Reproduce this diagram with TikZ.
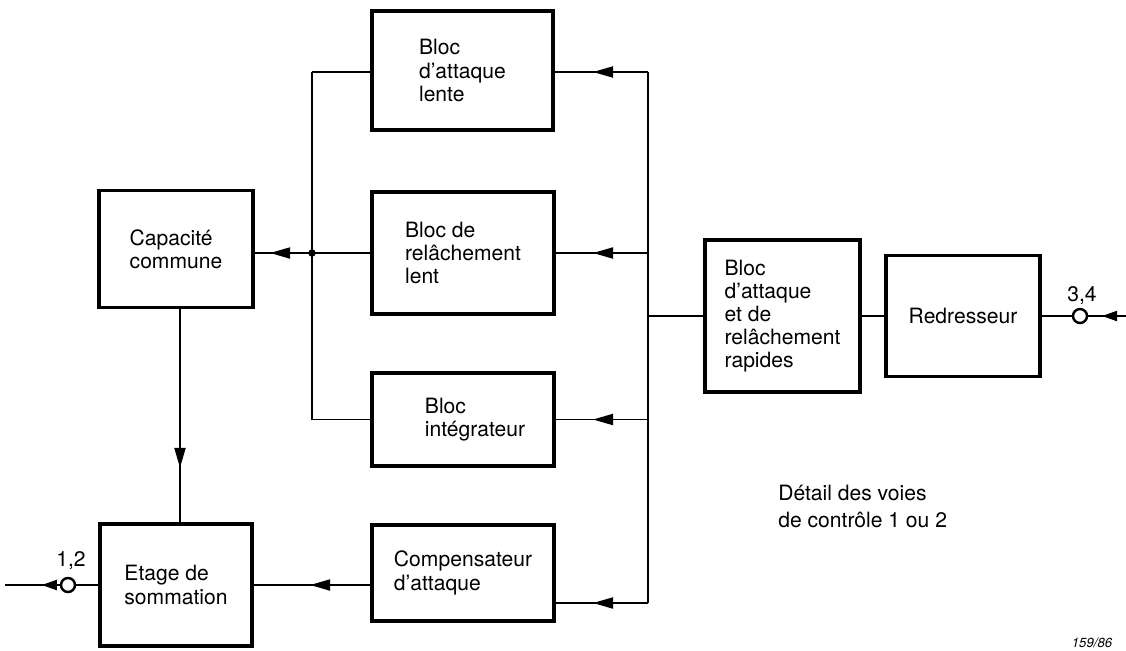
\documentclass[tikz,border=0pt]{standalone}
\usepackage{fontspec}
\setmainfont{TeX Gyre Heros}
\usetikzlibrary{arrows.meta,decorations.markings}
\begin{document}
\begin{tikzpicture}[x=0.02cm,y=-0.02cm,
  txt/.style={font=\fontsize{12}{13.2}\selectfont},
  bx/.style n args={2}{draw, line width=2.2pt, align=left, inner sep=0pt, txt,
    minimum width=#1*0.02cm, minimum height=#2*0.02cm},
  conn/.style={line width=1.1pt},
  midarr/.style={postaction={decorate}, decoration={markings,
    mark=at position #1 with {\arrow{Triangle[length=0.4cm,width=0.22cm]}}}},
  smallarr/.style={postaction={decorate}, decoration={markings,
    mark=at position #1 with {\arrow{Triangle[length=0.3cm,width=0.2cm]}}}},
  term/.style={circle, draw, line width=1.4pt, fill=white, minimum size=0.28cm, inner sep=0pt},
  dot/.style={circle, fill, inner sep=0pt, minimum size=0.15cm}]
\useasboundingbox (0,0) rectangle (1126,650);

% blocks
\node[bx={181}{119}] (lente)  at (462.5,70.5) {Bloc\\d’attaque\\lente};
\node[bx={182}{122}] (relach) at (463,253)    {Bloc de\\relâchement\\lent};
\node[bx={182}{93}]  (integ)  at (463,419.5)  {\hspace*{0.48cm}Bloc\\\hspace*{0.48cm}intégrateur};
\node[bx={182}{96}]  (comp)   at (463,573)    {Compensateur\\d’attaque};
\node[bx={154}{117}] (capa)   at (176,249)    {Capacité\\commune};
\node[bx={152}{122}] (etage)  at (176,585)    {Etage de\\sommation};
\node[bx={155}{152}] (rapid)  at (782.5,316)  {Bloc\\d’attaque\\et de\\relâchement\\rapides};
\node[bx={154}{121}] (redr)   at (963,316)    {Redresseur};

% bus coordinates
\coordinate (rb1) at (648,72);
\coordinate (rb2) at (648,253);
\coordinate (rbm) at (648,316);
\coordinate (rb3) at (648,419.5);
\coordinate (rb4) at (648,603);
\coordinate (lb1) at (312,72);
\coordinate (lb3) at (312,419.5);
\coordinate (vx) at (180,0);
\node[dot] (junc) at (312,253) {};

% right bus
\draw[conn] (rb1) -- (rb4);
\draw[conn, midarr=1.1cm] (rb1) -- (rb1 -| lente.east);
\draw[conn, midarr=1.1cm] (rb2) -- (relach.east);
\draw[conn, midarr=1.1cm] (rb3) -- (integ.east);
\draw[conn, midarr=1.1cm] (rb4) -- (rb4 -| comp.east);
\draw[conn] (rbm) -- (rapid.west);
\draw[conn] (rapid.east) -- (redr.west);

% input terminal
\node[term] (t34) at (1080,316) {};
\coordinate (in) at (1126,316);
\draw[conn] (redr.east) -- (t34);
\draw[conn, smallarr=0.48cm] (in) -- (t34);
\node[txt] (l34) at (1082,296) {3,4};

% left bus
\draw[conn] (lb1) -- (lb3);
\draw[conn] (lb1) -- (lb1 -| lente.west);
\draw[conn] (lb3) -- (integ.west);
\draw[conn, midarr=2cm] (relach.west) -- (relach.west -| capa.east);

% capacity to summation
\draw[conn, midarr=3.17cm] (vx |- capa.south) -- (vx |- etage.north);
\draw[conn, midarr=1.2cm] (etage.east -| comp.west) -- (etage.east);

% output terminal
\node[term] (t12) at (68,585) {};
\coordinate (out) at (5,585);
\draw[conn] (etage.west) -- (t12);
\draw[conn, smallarr=0.36cm] (t12) -- (out);
\node[txt] (l12) at (71,561) {1,2};

% notes
\node[font=\fontsize{12}{15}\selectfont, align=left, anchor=north west, inner sep=0pt] (det) at (778,485) {Détail des voies\\de contrôle 1 ou 2};
\node[font=\fontsize{7.5}{9}\selectfont\itshape, anchor=base, inner sep=0pt] (ref) at (1092,647) {159/86};
\end{tikzpicture}
\end{document}
